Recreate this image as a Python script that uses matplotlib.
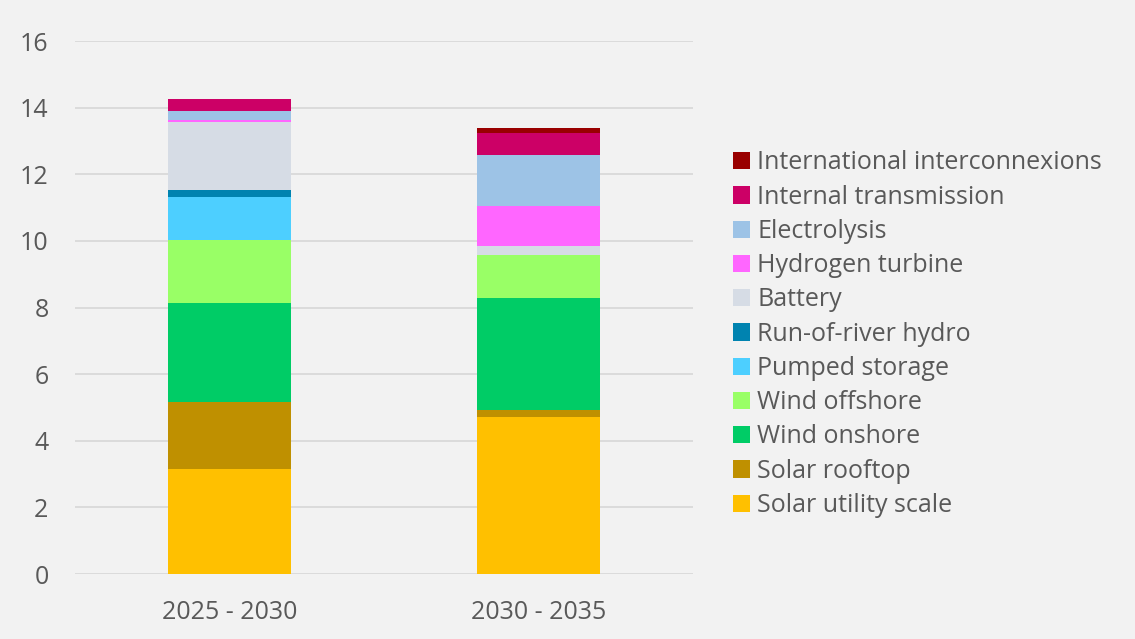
import numpy as np
import matplotlib.pyplot as plt

plt.rcParams['font.family'] = ['Open Sans', 'DejaVu Sans']

periods = ["2025 - 2030", "2030 - 2035"]

series = ["Solar utility scale", "Solar rooftop", "Wind onshore", "Wind offshore",
          "Pumped storage", "Run-of-river hydro", "Battery", "Hydrogen turbine",
          "Electrolysis", "Internal transmission", "International interconnexions"]

solar_utility = [3.15, 4.72]
solar_rooftop = [2.02, 0.20]
wind_onshore = [2.98, 3.37]
wind_offshore = [1.88, 1.30]
pumped_storage = [1.30, 0.0]
run_of_river = [0.20, 0.0]
battery = [2.05, 0.26]
hydrogen_turbine = [0.05, 1.21]
electrolysis = [0.28, 1.53]
internal_trans = [0.34, 0.65]
international = [0.02, 0.14]

values = [solar_utility, solar_rooftop, wind_onshore, wind_offshore, pumped_storage,
          run_of_river, battery, hydrogen_turbine, electrolysis, internal_trans, international]

colors = ["#FFC000", "#BF9000", "#00CC66", "#99FF66", "#4DCFFF", "#0083B0",
          "#D6DCE5", "#FF66FF", "#9DC3E6", "#CC0066", "#990000"]

bg = "#F2F2F2"
txt = "#595959"

fig = plt.figure(figsize=(11.35, 6.39), dpi=100, facecolor=bg)
ax = fig.add_axes([0.066, 0.1017, 0.5445, 0.834], facecolor=bg)

x = np.arange(len(periods))
bottom = np.zeros(len(periods))
handles = []
for name, v, c in zip(series, values, colors):
    b = ax.bar(x, v, 0.4, bottom=bottom, color=c, label=name, zorder=3)
    handles.append(b)
    bottom += np.array(v)

ax.set_xlim(-0.5, 1.5)
ax.set_ylim(0, 16)
ax.set_yticks(range(0, 17, 2))
ax.set_xticks(x)
ax.set_xticklabels(periods)
ax.grid(axis='y', color="#D9D9D9", linewidth=1.3, zorder=0)
for s in ax.spines.values():
    s.set_visible(False)
ax.tick_params(length=0, labelsize=18, colors=txt, labelcolor=txt)
ax.tick_params(axis='y', pad=19)
ax.tick_params(axis='x', pad=19)

leg = fig.legend(handles[::-1], series[::-1], loc='center left',
                 bbox_to_anchor=(0.646, 0.477), frameon=False,
                 fontsize=18, handlelength=0.68, handleheight=0.68,
                 handletextpad=0.28, labelspacing=0.37,
                 borderpad=0, borderaxespad=0)
for t in leg.get_texts():
    t.set_color(txt)

fig.savefig("out.png", dpi=100, facecolor=bg)
